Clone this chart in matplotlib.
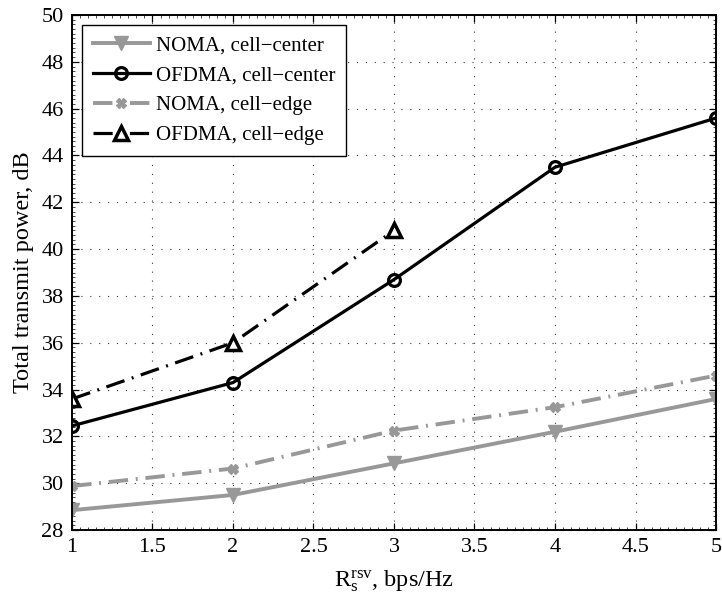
import numpy as np
import matplotlib
matplotlib.use("Agg")
import matplotlib.pyplot as plt
from matplotlib.ticker import MultipleLocator, AutoMinorLocator

plt.rcParams['font.family'] = ['Liberation Serif', 'DejaVu Serif']
plt.rcParams['mathtext.fontset'] = 'custom'
plt.rcParams['mathtext.rm'] = 'Liberation Serif'
plt.rcParams['mathtext.it'] = 'Liberation Serif'

# rate requirement (bps/Hz) and total transmit power (dB)
rate = [1, 2, 3, 4, 5]
noma_center = [28.85, 29.5, 30.85, 32.2, 33.6]
ofdma_center = [32.45, 34.3, 38.7, 43.5, 45.6]
noma_edge = [29.88, 30.63, 32.25, 33.25, 34.6]
rate_edge = [1, 2, 3]
ofdma_edge = [33.6, 36.0, 40.8]
xtick_labels = ['1', '1.5', '2', '2.5', '3', '3.5', '4', '4.5', '5']

gray = '#989898'
dashdot_k = (0, (6, 2.4, 0.6, 2.4))
dashdot_g = (0, (5, 2.0, 0.5, 2.0))

fig = plt.figure(figsize=(7.22, 6.01), dpi=100)
ax = fig.add_axes([0.0997, 0.118, 0.892, 0.857])

ax.plot(rate, noma_center, color=gray, lw=2.8, marker='v', ms=10,
        mfc=gray, mec=gray, label='NOMA, cell\u2212center')
ax.plot(rate, ofdma_center, color='black', lw=2.3, marker='o', ms=8.5,
        mfc='none', mec='black', mew=2.3, label='OFDMA, cell\u2212center')
ax.plot(rate, noma_edge, color=gray, lw=2.8, ls=dashdot_g, marker='X', ms=6.5,
        mfc=gray, mec=gray, label='NOMA, cell\u2212edge')
ax.plot(rate_edge, ofdma_edge, color='black', lw=2.3, ls=dashdot_k, marker='^',
        ms=9.5, mfc='white', mec='black', mew=2.5, label='OFDMA, cell\u2212edge')

ax.set_xlim(1, 5)
ax.set_ylim(28, 50)
ax.set_xticks(np.arange(1, 5.01, 0.5))
ax.set_xticklabels(xtick_labels)
ax.yaxis.set_major_locator(MultipleLocator(2))
ax.xaxis.set_minor_locator(AutoMinorLocator(10))
ax.yaxis.set_minor_locator(AutoMinorLocator(10))

ax.tick_params(which='major', direction='in', length=5, width=0.9,
               top=True, right=True, labelsize=16, pad=6)
ax.tick_params(which='minor', direction='in', length=2, width=0.5,
               top=True, right=True)
for s in ax.spines.values():
    s.set_linewidth(1.4)

ax.grid(True, which='major', color='#333333', ls=(0, (1, 7)), lw=0.8)

ax.set_xlabel(r'$\mathrm{R_s^{rsv}}$, bps/Hz', fontsize=17.5, labelpad=8)
ax.set_ylabel('Total transmit power, dB', fontsize=17.5, labelpad=5)

leg = ax.legend(loc='upper left', fontsize=15, handlelength=2.75,
                frameon=True, fancybox=False, borderaxespad=0.5,
                labelspacing=0.5, handletextpad=0.3, borderpad=0.5)
leg.get_frame().set_edgecolor('black')
leg.get_frame().set_linewidth(1.0)
leg.get_frame().set_alpha(1)

fig.savefig('out.png', dpi=100)
